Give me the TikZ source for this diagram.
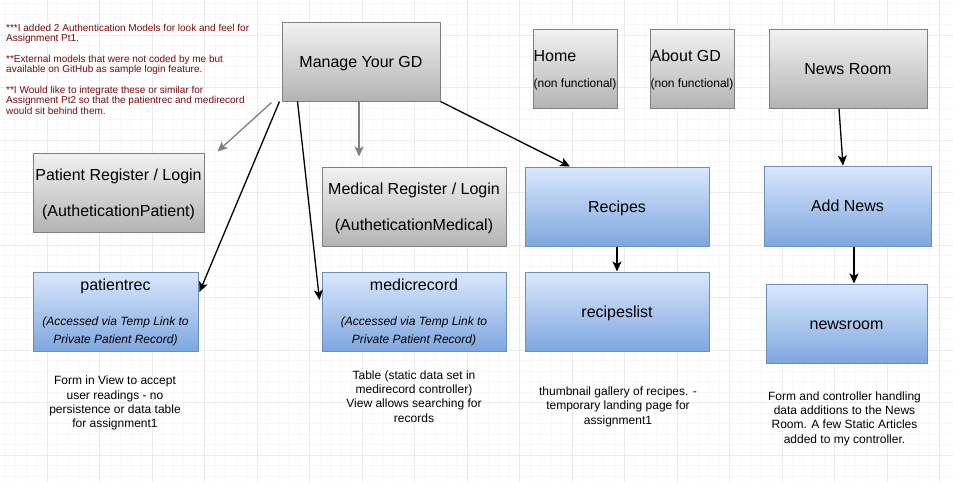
\documentclass[tikz,border=0pt]{standalone}
\usepackage{fontspec}
\setmainfont{Liberation Sans}
\usetikzlibrary{arrows.meta}

\definecolor{greyedge}{HTML}{808080}
\definecolor{greytop}{HTML}{F2F2F2}
\definecolor{greybot}{HTML}{B3B3B3}
\definecolor{blueedge}{HTML}{6C8EBF}
\definecolor{bluetop}{HTML}{DAE8FC}
\definecolor{bluebot}{HTML}{7EA6E0}
\definecolor{notered}{HTML}{7A0A0A}
\definecolor{gridmajor}{HTML}{EBEBEB}
\definecolor{gridminor}{HTML}{F7F7F7}

\newcommand{\smalltxt}{\fontsize{12}{14}\selectfont}
\newcommand{\smallit}{\fontsize{12}{14}\selectfont\itshape}

\begin{document}
\begin{tikzpicture}[x=1pt, y=-1pt,
    box/.style={rectangle, draw, line width=1pt, align=center, inner sep=0pt, minimum height=79, text depth=0pt, font=\fontsize{16}{18}\selectfont},
    oneline/.style={text height=11.5pt},
    greybox/.style={box, draw=greyedge, top color=greytop, bottom color=greybot},
    bluebox/.style={box, draw=blueedge, top color=bluetop, bottom color=bluebot},
    desc/.style={align=center, anchor=north, inner sep=0pt, font=\fontsize{12}{14.3}\selectfont},
    arrow/.style={-{Stealth[length=10pt, width=9pt, inset=2.5pt]}, line width=1.3pt},
    greyarrow/.style={arrow, draw=greyedge},
  ]
  \useasboundingbox (0,0) rectangle (953,482);
  % background grid
  \fill[white] (0,0) rectangle (953,482);
  \foreach \i in {1,...,90}
    \draw[gridminor, line width=1pt] ({-5.5+10.5*\i},0) -- ({-5.5+10.5*\i},482);
  \foreach \j in {0,...,45}
    \draw[gridminor, line width=1pt] (0,{3.5+10.5*\j}) -- (953,{3.5+10.5*\j});
  \foreach \i in {1,...,18}
    \draw[gridmajor, line width=1pt] ({-5.5+52.5*\i},0) -- ({-5.5+52.5*\i},482);
  \foreach \j in {0,...,8}
    \draw[gridmajor, line width=1pt] (0,{35+52.5*\j}) -- (953,{35+52.5*\j});

  % notes
  \node[anchor=north west, align=left, inner sep=0pt, text=notered, font=\fontsize{10}{10.5}\selectfont] (notes) at (6,24)
    {***I added 2 Authentication Models for look and feel for\\
     Assignment Pt1.\\[10pt]
     **External models that were not coded by me but\\
     available on GitHub as sample login feature.\\[10pt]
     **I Would like to integrate these or similar for\\
     Assignment Pt2 so that the patientrec and medirecord\\
     would sit behind them.};

  % top row
  \node[greybox, oneline, minimum width=158] (manage) at (361,61.5) {Manage Your GD};
  \node[greybox, minimum width=84, align=left] (home) at (575,68.5)
    {Home\\[8pt]\smalltxt(non functional)};
  \node[greybox, minimum width=84, align=left] (about) at (692,68.5)
    {About GD\\[8pt]\smalltxt(non functional)};
  \node[greybox, oneline, minimum width=158] (news) at (848,68.5) {News Room};

  % login boxes
  \node[greybox, minimum width=171] (patreg) at (118.5,192.5)
    {Patient Register / Login\\[18pt](AutheticationPatient)};
  \node[greybox, minimum width=184] (medreg) at (414,206.5)
    {Medical Register / Login\\[18pt](AutheticationMedical)};

  % blue boxes
  \node[bluebox, minimum width=165] (patrec) at (115.5,311.5)
    {patientrec\\[17pt]\smallit(Accessed via Temp Link to\\\smallit Private Patient Record)};
  \node[bluebox, minimum width=184] (medrec) at (414,311.5)
    {medicrecord\\[17pt]\smallit(Accessed via Temp Link to\\\smallit Private Patient Record)};
  \node[bluebox, oneline, minimum width=184] (recipes) at (617,206.5) {Recipes};
  \node[bluebox, oneline, minimum width=184] (reclist) at (617,311.5) {recipeslist};
  \node[bluebox, oneline, minimum width=167, minimum height=80] (addnews) at (847.5,206) {Add News};
  \node[bluebox, oneline, minimum width=161] (newsroom) at (846.5,323.5) {newsroom};

  % descriptions
  \node[desc] (patdesc) at (115,376)
    {Form in View to accept\\user readings - no\\persistence or data table\\for assignment1};
  \node[desc] (meddesc) at (414,370.2)
    {Table (static data set in\\medirecord controller)\\View allows searching for\\records};
  \node[desc] (recdesc) at (618,386.5)
    {thumbnail gallery of recipes. -\\temporary landing page for\\assignment1};
  \node[desc] (newsdesc) at (844.5,391.2)
    {Form and controller handling\\data additions to the News\\Room. A few Static Articles\\added to my controller.};

  % connectors
  \draw[greyarrow] ([shift={(-10,1)}]manage.south west) -- ([shift={(13,-1)}]patreg.north east);
  \draw[arrow] ([shift={(-2,0)}]manage.south west) -- ([shift={(1,-19.5)}]patrec.east);
  \draw[arrow] ([shift={(16,0)}]manage.south west) -- ([shift={(-2,-11.5)}]medrec.west);
  \draw[greyarrow] ([shift={(-2,0)}]manage.south) -- ([shift={(-55,-10)}]medreg.north);
  \draw[arrow] (manage.south east) -- ([shift={(-47,0)}]recipes.north);
  \draw[arrow] (recipes) -- (reclist);
  \draw[arrow] ([shift={(-9,0)}]news.south) -- ([shift={(-4.5,0)}]addnews.north);
  \draw[arrow] ([shift={(6.5,0)}]addnews.south) -- ([shift={(7.5,0)}]newsroom.north);
\end{tikzpicture}
\end{document}
